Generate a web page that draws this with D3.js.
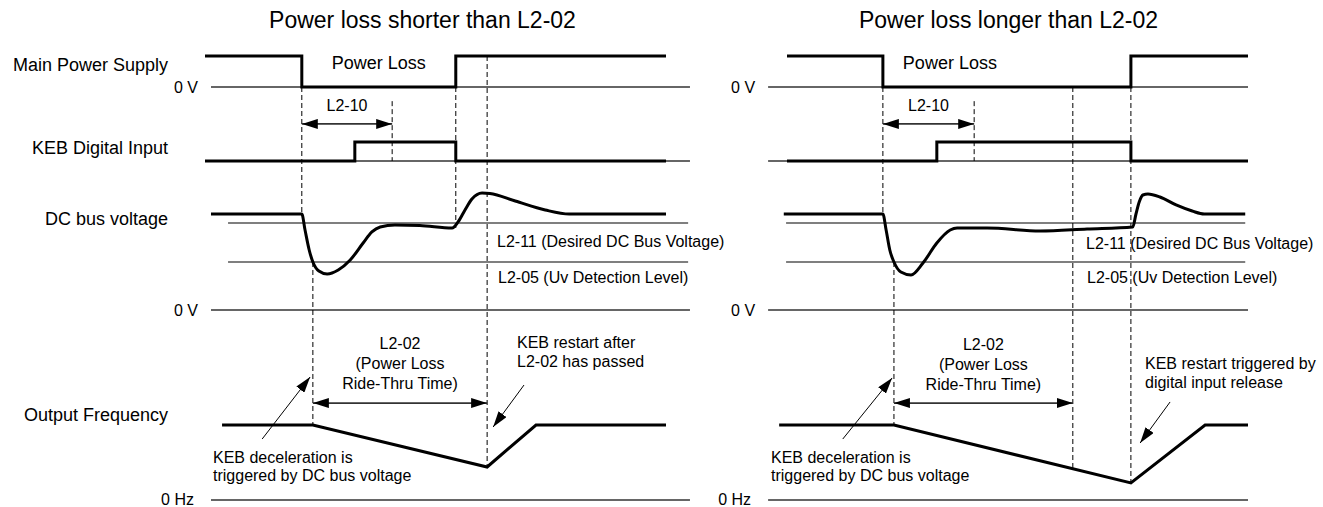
<!DOCTYPE html>
<html>
<head>
<meta charset="utf-8">
<script src="https://cdnjs.cloudflare.com/ajax/libs/d3/7.8.5/d3.min.js"></script>
<style>
body { margin: 0; background: #fff; }
svg { display: block; font-family: "Liberation Sans", Arial, sans-serif; }
</style>
</head>
<body>
<svg width="1323" height="507"></svg>
<script>
// time runs 0..100 across each panel, signal levels are per row
var panelTitles = ["Power loss shorter than L2-02", "Power loss longer than L2-02"];
var rowLabels = ["Main Power Supply", "KEB Digital Input", "DC bus voltage", "Output Frequency"];

// main power supply, 1 = on, 0 = 0 V
var mainPower = [
    [[0, 1], [21.0, 1], [21.0, 0], [54.4, 0], [54.4, 1], [100, 1]],
    [[0, 1], [20.8, 1], [20.8, 0], [74.6, 0], [74.6, 1], [100, 1]]
];
// KEB digital input, 1 = closed
var kebInput = [
    [[0, 0], [32.5, 0], [32.5, 1], [54.4, 1], [54.4, 0], [100, 0]],
    [[0, 0], [32.5, 0], [32.5, 1], [74.6, 1], [74.6, 0], [100, 0]]
];
// DC bus voltage, % of normal level
var dcBus = [
    [[1.3, 100], [21.0, 100], [21.7, 83.3], [22.6, 62.5], [23.4, 50], [24.7, 40.6], [26.5, 37.5],
     [28.9, 41.7], [31.5, 52.1], [34.3, 69.8], [36.2, 81.3], [38.0, 86.5], [41.2, 88.5], [46.6, 88.0],
     [53.6, 85.4], [54.9, 91.7], [56.4, 104.2], [57.9, 115.6], [60.1, 121.9], [61.8, 121.4],
     [67.3, 113.5], [73.8, 104.2], [79.0, 100], [100, 100]],
    [[-0.7, 100], [20.8, 100], [21.5, 83.3], [22.3, 62.5], [23.2, 50], [24.7, 39.6], [26.9, 36.5],
     [29.5, 49.0], [32.5, 69.8], [35.4, 83.3], [36.9, 85.4], [43.4, 85.4], [54.9, 82.3], [65.1, 84.4],
     [75.0, 86.5], [75.7, 100], [76.4, 112.5], [77.2, 119.8], [78.3, 120.8], [80.9, 117.7],
     [84.4, 109.4], [87.9, 103.1], [90.5, 100], [99.4, 100]]
];
var levelL211 = 90.6;
var levelL205 = 50;
// output frequency, % of normal speed
var outFreq = [
    [[3.7, 100], [23.4, 100], [61.2, 44], [71.8, 100], [100, 100]],
    [[-1.7, 100], [23.2, 100], [74.6, 22.7], [90.7, 100], [100, 100]]
];
// event times: power loss, L2-10 end, KEB decel start, L2-02 end, power back, restart
var events = [
    {loss: 21.0, l210: 40.6, decel: 23.4, l202: 61.2, l202Out: 44, ret: 54.4, restart: 61.2, restartOut: 44},
    {loss: 20.8, l210: 40.6, decel: 23.2, l202: 62.0, l202Out: 41.6, ret: 74.6, restart: 74.6, restartOut: 22.7}
];
var zeroSpan = [[1.3, 105.2], [-4.1, 100]];
var levelSpan = [[5.0, 104.8], [-0.2, 99.4]];
var restartText = [["KEB restart after", "L2-02 has passed"], ["KEB restart triggered by", "digital input release"]];
// annotation arrows [t, output %]
var decelArrow = [[[12.4, 81.3], [22.8, 164]], [[12.1, 81.3], [22.8, 162.7]]];
var restartArrow = [[[69.2, 153.3], [62.5, 97.3]], [[83.1, 130.7], [76.6, 76]]];

var svg = d3.select("svg");
var panelX = [[205, 666], [787, 1248]];

var yMain = d3.scaleLinear().domain([0, 1]).range([87, 56]);
var yKeb = d3.scaleLinear().domain([0, 1]).range([161, 142]);
var yDc = d3.scaleLinear().domain([0, 100]).range([310, 214]);
var yOut = d3.scaleLinear().domain([0, 100]).range([500, 425]);
var rowScale = {main: yMain, keb: yKeb, dc: yDc, out: yOut};

var defs = svg.append("defs");
defs.append("marker")
    .attr("id", "head")
    .attr("viewBox", "0 0 16 10")
    .attr("refX", 16).attr("refY", 5)
    .attr("markerUnits", "userSpaceOnUse")
    .attr("markerWidth", 16).attr("markerHeight", 10)
    .attr("orient", "auto-start-reverse")
    .append("path").attr("d", "M0,0 L16,5 L0,10 Z").attr("fill", "#000");

// row labels
var labelY = [71, 154, 225, 421];
svg.selectAll(".rowlabel").data(rowLabels).enter().append("text")
    .attr("x", 168).attr("y", function (d, i) { return labelY[i]; })
    .attr("text-anchor", "end").style("font-size", "18px").text(function (d) { return d; });

function drawPanel(p) {
    var x = d3.scaleLinear().domain([0, 100]).range(panelX[p]);
    var g = svg.append("g");
    var ev = events[p];
    var step = function (scale) {
        return d3.line().x(function (d) { return x(d[0]); }).y(function (d) { return scale(d[1]); });
    };

    g.append("text").attr("x", (x(0) + x(100)) / 2 + [-13, -9][p]).attr("y", 28)
        .attr("text-anchor", "middle").style("font-size", "23px").text(panelTitles[p]);

    // thin reference lines
    [yMain, yKeb, yDc, yOut].forEach(function (s) {
        g.append("line").attr("x1", x(zeroSpan[p][0])).attr("x2", x(zeroSpan[p][1]))
            .attr("y1", s(0)).attr("y2", s(0))
            .attr("stroke", "#333").attr("stroke-width", 1.4);
    });
    [levelL211, levelL205].forEach(function (v) {
        g.append("line").attr("x1", x(levelSpan[p][0])).attr("x2", x(levelSpan[p][1]))
            .attr("y1", yDc(v)).attr("y2", yDc(v))
            .attr("stroke", "#555").attr("stroke-width", 1.3);
    });

    // dashed timing lines
    var dashes = [
        [ev.loss, "main", 0, "dc", 100],
        [ev.l210, "keb", 3.15, "keb", 0],
        [ev.decel, "dc", levelL205, "out", 100],
        [ev.l202, "main", p == 0 ? 1 : 0, "out", ev.l202Out]
    ];
    if (p == 0) dashes.push([ev.ret, "main", 0, "dc", 85.4]);
    else dashes.push([ev.restart, "main", 0, "out", ev.restartOut]);
    g.selectAll(".dash").data(dashes).enter().append("line")
        .attr("x1", function (d) { return x(d[0]); }).attr("x2", function (d) { return x(d[0]); })
        .attr("y1", function (d) { return rowScale[d[1]](d[2]); })
        .attr("y2", function (d) { return rowScale[d[3]](d[4]); })
        .attr("stroke", "#000").attr("stroke-width", 1).attr("stroke-dasharray", "5,3");

    // signals
    g.append("path").attr("d", step(yMain)(mainPower[p]))
        .attr("fill", "none").attr("stroke", "#000").attr("stroke-width", 3);
    g.append("path").attr("d", step(yKeb)(kebInput[p]))
        .attr("fill", "none").attr("stroke", "#000").attr("stroke-width", 3);
    g.append("path").attr("d", step(yDc).curve(d3.curveMonotoneX)(dcBus[p]))
        .attr("fill", "none").attr("stroke", "#000").attr("stroke-width", 3);
    g.append("path").attr("d", step(yOut)(outFreq[p]))
        .attr("fill", "none").attr("stroke", "#000").attr("stroke-width", 3);

    // zero labels
    var zx = x(zeroSpan[p][0]) - 13;
    g.append("text").attr("x", zx).attr("y", yMain(0) + 6).attr("text-anchor", "end").style("font-size", "16px").text("0 V");
    g.append("text").attr("x", zx).attr("y", yDc(0) + 6).attr("text-anchor", "end").style("font-size", "16px").text("0 V");
    g.append("text").attr("x", zx - 4).attr("y", yOut(0) + 4.5).attr("text-anchor", "end").style("font-size", "16px").text("0 Hz");

    g.append("text").attr("x", x((ev.loss + ev.ret) / 2) + [0, -57][p]).attr("y", 69)
        .attr("text-anchor", "middle").style("font-size", "18px").text("Power Loss");

    // L2-10
    g.append("line").attr("x1", x(ev.loss)).attr("x2", x(ev.l210))
        .attr("y1", yKeb(1.95)).attr("y2", yKeb(1.95))
        .attr("stroke", "#333").attr("stroke-width", 1.8)
        .attr("marker-start", "url(#head)").attr("marker-end", "url(#head)");
    g.append("text").attr("x", x((ev.loss + ev.l210) / 2)).attr("y", 111)
        .attr("text-anchor", "middle").style("font-size", "16px").text("L2-10");

    // level captions
    g.append("text").attr("x", [497, 1086][p]).attr("y", [247, 249][p]).style("font-size", "16px")
        .text("L2-11 (Desired DC Bus Voltage)");
    g.append("text").attr("x", [498, 1087][p]).attr("y", 283).style("font-size", "16px")
        .text("L2-05 (Uv Detection Level)");

    // L2-02
    g.append("line").attr("x1", x(ev.decel)).attr("x2", x(ev.l202))
        .attr("y1", yOut(129.3)).attr("y2", yOut(129.3))
        .attr("stroke", "#333").attr("stroke-width", 1.8)
        .attr("marker-start", "url(#head)").attr("marker-end", "url(#head)");
    ["L2-02", "(Power Loss", "Ride-Thru Time)"].forEach(function (t, i) {
        g.append("text").attr("x", x((ev.decel + ev.l202) / 2)).attr("y", 349 + i * 20 + p)
            .attr("text-anchor", "middle").style("font-size", "16px").text(t);
    });

    // notes
    restartText[p].forEach(function (t, i) {
        g.append("text").attr("x", [517, 1145][p]).attr("y", [348, 369][p] + i * 19)
            .style("font-size", "16px").text(t);
    });
    ["KEB deceleration is", "triggered by DC bus voltage"].forEach(function (t, i) {
        g.append("text").attr("x", x(0) + [8, -16][p]).attr("y", 463 + i * 18)
            .style("font-size", "16px").text(t);
    });

    [decelArrow[p], restartArrow[p]].forEach(function (a) {
        g.append("line").attr("x1", x(a[0][0])).attr("y1", yOut(a[0][1]))
            .attr("x2", x(a[1][0])).attr("y2", yOut(a[1][1]))
            .attr("stroke", "#000").attr("stroke-width", 1)
            .attr("marker-end", "url(#head)");
    });
}

drawPanel(0);
drawPanel(1);
</script>
</body>
</html>
